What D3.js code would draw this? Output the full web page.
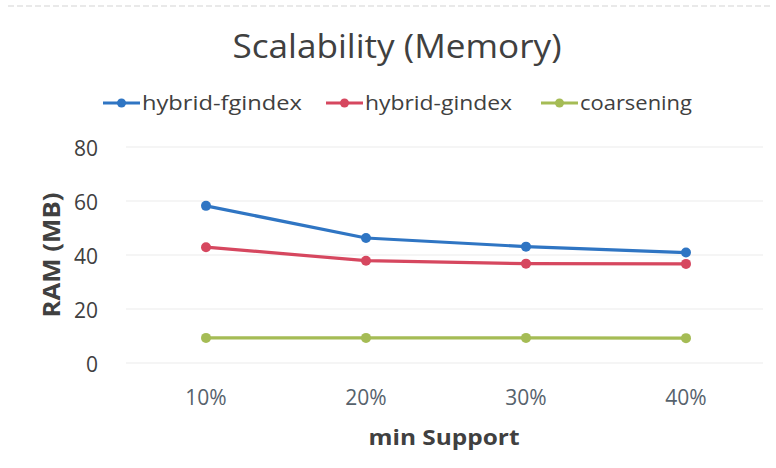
<!DOCTYPE html>
<html><head><meta charset="utf-8">
<script src="https://cdn.jsdelivr.net/npm/d3@7"></script>
<style>body{margin:0;background:#fff}svg{display:block}</style>
</head><body>
<svg id="c" width="776" height="468"></svg>
<script>
const categories = ["10%", "20%", "30%", "40%"];
const seriesNames = ["hybrid-fgindex", "hybrid-gindex", "coarsening"];
const fgindex = [58.2, 46.3, 43.1, 40.9];
const gindex = [42.9, 37.9, 36.8, 36.7];
const coarsening = [9.3, 9.3, 9.3, 9.2];
const yTicks = [0, 20, 40, 60, 80];
const colors = ["#2f75c3", "#d6475f", "#a5bc55"];
const series = [fgindex, gindex, coarsening];

const svg = d3.select("#c");
const font = "'Open Sans', sans-serif";
const plotLeft = 126, plotRight = 766, plotTop = 147, plotBottom = 363;

const x = d3.scaleBand().domain(categories).range([plotLeft, plotRight]);
const y = d3.scaleLinear().domain([0, 80]).range([plotBottom, plotTop]);

// faint scan border
svg.append("line").attr("x1", 8).attr("x2", 770).attr("y1", 6).attr("y2", 6)
  .attr("stroke", "#e2e2e2").attr("stroke-width", 1.5).attr("stroke-dasharray", "6,3");

// gridlines
svg.append("g").selectAll("line").data(yTicks).join("line")
  .attr("x1", plotLeft).attr("x2", plotRight - 3)
  .attr("y1", d => y(d)).attr("y2", d => y(d))
  .attr("stroke", "#f2f2f2").attr("stroke-width", 1.5);

// y axis
const ya = svg.append("g").attr("transform", `translate(98,2)`)
  .call(d3.axisLeft(y).tickValues(yTicks).tickSize(0).tickPadding(0));
ya.select(".domain").remove();
ya.selectAll("text").attr("font-family", font).attr("font-size", 21).attr("fill", "#404040");

// x axis
const xa = svg.append("g").attr("transform", `translate(0,${plotBottom + 27})`)
  .call(d3.axisBottom(x).tickSize(0).tickPadding(0));
xa.select(".domain").remove();
xa.selectAll("text").attr("font-family", font).attr("font-size", 21).attr("fill", "#56626c");

// title
svg.append("text").attr("x", 397).attr("y", 58).attr("text-anchor", "middle")
  .attr("font-family", font).attr("font-size", 32).attr("fill", "#404040")
  .attr("textLength", 329).attr("lengthAdjust", "spacingAndGlyphs")
  .text("Scalability (Memory)");

// axis titles
svg.append("text").attr("x", 444).attr("y", 445).attr("text-anchor", "middle")
  .attr("font-family", font).attr("font-size", 22).attr("font-weight", "bold").attr("fill", "#404040")
  .attr("textLength", 151).attr("lengthAdjust", "spacingAndGlyphs")
  .text("min Support");
svg.append("text").attr("transform", "translate(60,255) rotate(-90)").attr("text-anchor", "middle")
  .attr("font-family", font).attr("font-size", 23).attr("font-weight", "bold").attr("fill", "#404040")
  .attr("textLength", 125).attr("lengthAdjust", "spacingAndGlyphs")
  .text("RAM (MB)");

// lines
const line = d3.line().x((d, i) => x(categories[i]) + x.bandwidth() / 2).y(d => y(d));
series.forEach((s, k) => {
  const g = svg.append("g");
  g.append("path").attr("d", line(s)).attr("fill", "none")
    .attr("stroke", colors[k]).attr("stroke-width", 3.2).attr("stroke-linejoin", "round");
  g.selectAll("circle").data(s).join("circle")
    .attr("cx", (d, i) => x(categories[i]) + x.bandwidth() / 2).attr("cy", d => y(d))
    .attr("r", 5).attr("fill", colors[k]);
});

// legend
const legX = [103, 326, 541];
const legW = [160, 147, 112];
const lg = svg.append("g");
seriesNames.forEach((n, k) => {
  const g = lg.append("g").attr("transform", `translate(${legX[k]},103)`);
  g.append("line").attr("x1", 0).attr("x2", 37).attr("stroke", colors[k]).attr("stroke-width", 3.2);
  g.append("circle").attr("cx", 18.5).attr("r", 4.5).attr("fill", colors[k]);
  g.append("text").attr("x", 39).attr("y", 7).attr("font-family", font).attr("font-size", 20)
    .attr("fill", "#404040").attr("textLength", legW[k]).attr("lengthAdjust", "spacingAndGlyphs").text(n);
});
</script>
</body></html>
